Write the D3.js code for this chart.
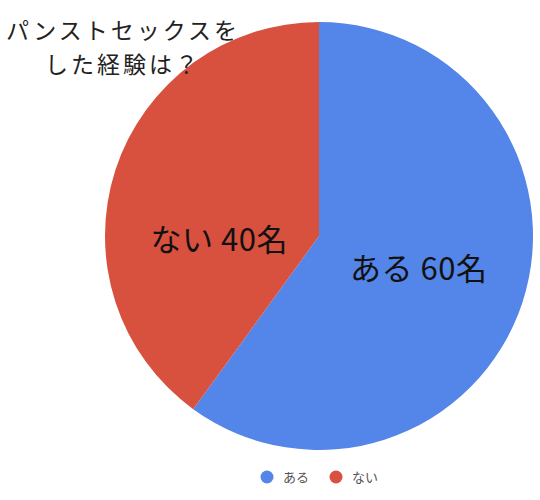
<!DOCTYPE html>
<html>
<head>
<meta charset="utf-8">
<script src="https://cdn.jsdelivr.net/npm/d3@7"></script>
<style>
  body { margin: 0; background: #fff; }
  text { font-family: "Noto Sans CJK JP", "Noto Sans", sans-serif; }
</style>
</head>
<body>
<div id="chart"></div>
<script>
var categories = ["ある", "ない"];
var values = [60, 40];
var labelTexts = ["ある 60名", "ない 40名"];
var colors = ["#5485e8", "#d8503e"];
var titleLines = ["パンストセックスを", "した経験は？"];

var width = 540, height = 500;
var cx = 319, cy = 236, radius = 214;

var svg = d3.select("#chart")
  .append("svg")
  .attr("width", width)
  .attr("height", height);

var pie = d3.pie().sort(null).value(function(d) { return d; });
var arcs = pie(values);

var arc = d3.arc().innerRadius(0).outerRadius(radius);
var labelArc = d3.arc().innerRadius(radius * 0.49).outerRadius(radius * 0.49);

var g = svg.append("g")
  .attr("transform", "translate(" + cx + "," + cy + ")");

g.selectAll("path")
  .data(arcs)
  .enter().append("path")
  .attr("d", arc)
  .style("fill", function(d, i) { return colors[i]; });

// google puts the smaller slice label lower than its centroid
var labelNudge = [0, 36];

g.selectAll("text.lbl")
  .data(arcs)
  .enter().append("text")
  .attr("class", "lbl")
  .attr("transform", function(d, i) {
    var c = labelArc.centroid(d);
    return "translate(" + c[0] + "," + (c[1] + labelNudge[i]) + ")";
  })
  .attr("text-anchor", "middle")
  .attr("dy", "0.36em")
  .style("font-size", "31px")
  .style("letter-spacing", "0.5px")
  .style("fill", "#111")
  .text(function(d, i) { return labelTexts[i]; });

// title
svg.append("g")
  .selectAll("text")
  .data(titleLines)
  .enter().append("text")
  .attr("x", 123)
  .attr("y", function(d, i) { return 39 + i * 34; })
  .attr("text-anchor", "middle")
  .style("font-size", "23px")
  .style("letter-spacing", "3px")
  .style("fill", "#222")
  .text(function(d) { return d; });

// legend
var legend = svg.append("g")
  .selectAll("g")
  .data(categories)
  .enter().append("g")
  .attr("transform", function(d, i) { return "translate(" + (267 + i * 69) + ",477)"; });

legend.append("circle")
  .attr("r", 6.5)
  .style("fill", function(d, i) { return colors[i]; });

legend.append("text")
  .attr("x", 16)
  .attr("dy", "0.36em")
  .style("font-size", "13px")
  .style("fill", "#555")
  .text(function(d) { return d; });
</script>
</body>
</html>
